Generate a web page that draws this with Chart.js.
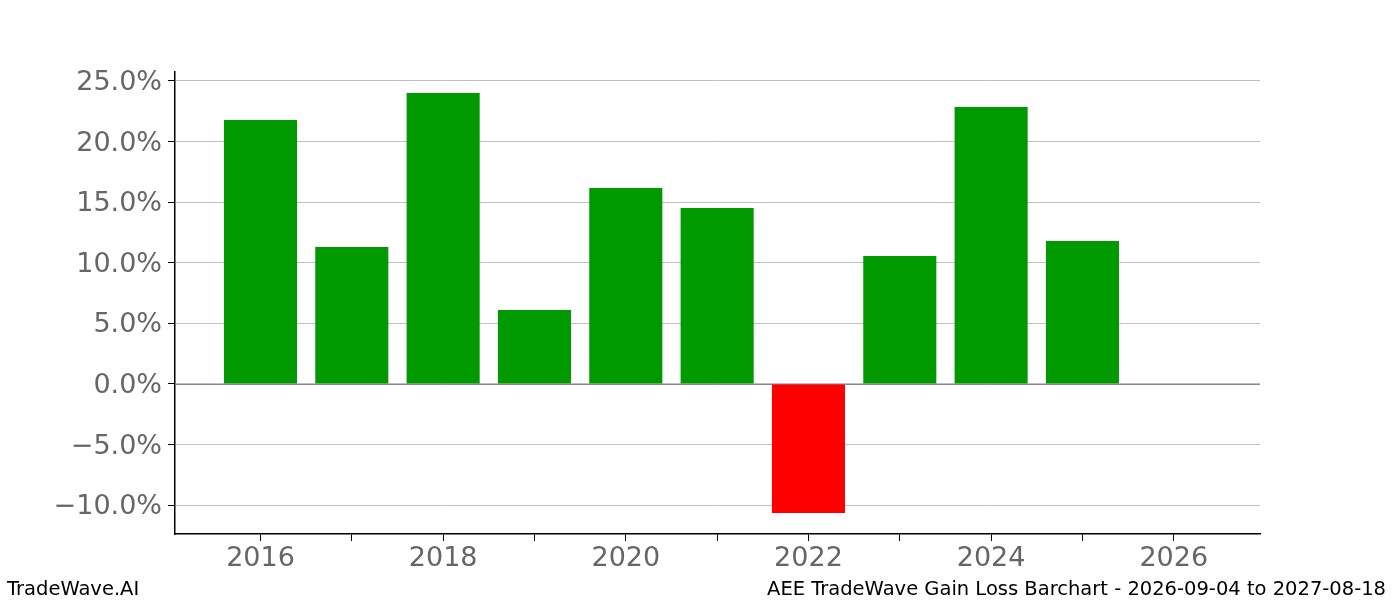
<!DOCTYPE html>
<html>
<head>
<meta charset="utf-8">
<script src="https://cdn.jsdelivr.net/npm/chart.js@4/dist/chart.umd.min.js"></script>
<style>
  html, body { margin: 0; padding: 0; background: #fff; }
  #wrap { width: 1400px; height: 600px; }
</style>
</head>
<body>
<div id="wrap"><canvas id="grafico" width="1400" height="600"></canvas></div>
<script>
// Datos del gráfico
const anios = [2016, 2017, 2018, 2019, 2020, 2021, 2022, 2023, 2024, 2025];
const ganancias = [21.78, 11.3, 24.0, 6.1, 16.17, 14.52, -10.64, 10.56, 22.85, 11.8];
const ticksY = [-10, -5, 0, 5, 10, 15, 20, 25];
const ticksX = [2016, 2018, 2020, 2022, 2024, 2026];
const textoIzq = 'TradeWave.AI';
const textoDer = 'AEE TradeWave Gain Loss Barchart - 2026-09-04 to 2027-08-18';

const fuente = "'DejaVu Sans', sans-serif";

// Pie de página
const piePlugin = {
    id: 'pie',
    afterDraw(chart) {
        const ctx = chart.ctx;
        ctx.save();
        ctx.font = '19.5px ' + fuente;
        ctx.fillStyle = '#000';
        ctx.textBaseline = 'alphabetic';
        ctx.textAlign = 'left';
        ctx.fillText(textoIzq, 7, 595);
        ctx.textAlign = 'right';
        ctx.fillText(textoDer, 1386, 595);
        ctx.restore();
    }
};

// Línea del cero
const ceroPlugin = {
    id: 'cero',
    beforeDatasetsDraw(chart) {
        const { ctx, chartArea, scales } = chart;
        const y = Math.round(scales.y.getPixelForValue(0)) + 0.5;
        ctx.save();
        ctx.strokeStyle = '#888';
        ctx.lineWidth = 1;
        ctx.beginPath();
        ctx.moveTo(chartArea.left, y);
        ctx.lineTo(chartArea.right, y);
        ctx.stroke();
        ctx.restore();
    }
};

const ctx = document.getElementById('grafico').getContext('2d');
new Chart(ctx, {
    type: 'bar',
    data: {
        datasets: [{
            data: anios.map((a, i) => ({ x: a, y: ganancias[i] })),
            backgroundColor: ganancias.map(v => v >= 0 ? '#009900' : '#ff0000'),
            borderWidth: 0,
            barPercentage: 0.8,
            categoryPercentage: 1.0
        }]
    },
    options: {
        responsive: false,
        animation: false,
        layout: { padding: { left: 0, right: 140, top: 72, bottom: 0 } },
        plugins: {
            legend: { display: false },
            tooltip: { enabled: false }
        },
        scales: {
            x: {
                type: 'linear',
                offset: false,
                min: 2015.064,
                max: 2026.944,
                afterBuildTicks: (scale) => {
                    scale.ticks = [];
                    for (let a = 2016; a <= 2026; a++) scale.ticks.push({ value: a });
                },
                afterFit: (scale) => { scale.height = 66; },
                ticks: {
                    autoSkip: false,
                    maxRotation: 0,
                    color: '#666',
                    font: { family: fuente, size: 27 },
                    padding: 2,
                    callback: (v) => ticksX.includes(v) ? String(v) : ''
                },
                grid: {
                    offset: false,
                    drawOnChartArea: false,
                    drawTicks: true,
                    tickLength: 7,
                    color: '#000'
                },
                border: { display: true, color: '#000', width: 1.5 }
            },
            y: {
                min: -12.38,
                max: 25.74,
                afterBuildTicks: (scale) => {
                    scale.ticks = ticksY.map(v => ({ value: v }));
                },
                afterFit: (scale) => { scale.width = 175; },
                ticks: {
                    color: '#666',
                    font: { family: fuente, size: 27 },
                    padding: 6,
                    labelOffset: 2,
                    callback: (v) => (v < 0 ? '\u2212' + Math.abs(v).toFixed(1) : v.toFixed(1)) + '%'
                },
                grid: {
                    color: '#c0c0c0',
                    lineWidth: 1,
                    drawTicks: true,
                    tickLength: 7,
                    tickColor: '#000'
                },
                border: { display: true, color: '#000', width: 1.5 }
            }
        }
    },
    plugins: [ceroPlugin, piePlugin]
});
</script>
</body>
</html>
